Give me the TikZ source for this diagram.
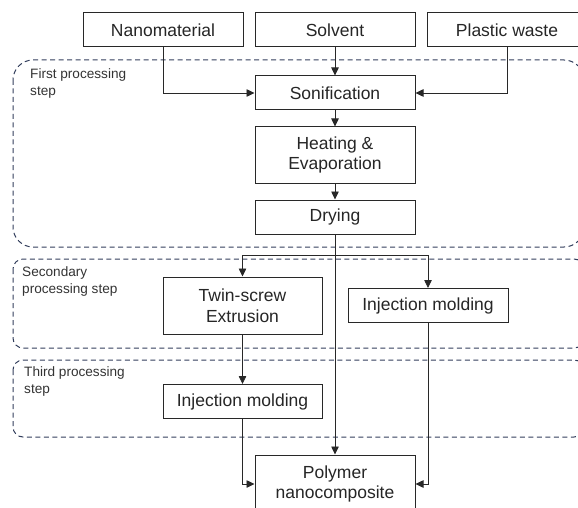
\documentclass[tikz,border=0pt]{standalone}
\usepackage{fontspec}
\setmainfont{Liberation Sans}
\usetikzlibrary{arrows.meta}
\definecolor{dashblue}{RGB}{50,62,92}
\definecolor{linegray}{RGB}{40,40,40}

\begin{document}
\begin{tikzpicture}[x=1pt,y=-1pt,>={Triangle[length=8pt,width=7.5pt]},draw=linegray]
    \tikzstyle{stepbox}=[draw=linegray,line width=1pt,fill=white,minimum width=160pt,minimum height=34pt,inner sep=0pt,align=center,font=\fontsize{17.5}{20.5}\selectfont,text=black!85]
    \tikzstyle{region}=[draw=dashblue,line width=1pt,dash pattern=on 5pt off 3.5pt]
    \tikzstyle{regionlabel}=[anchor=north west,align=left,inner sep=0pt,font=\fontsize{13.6}{17}\selectfont,text=black!80]
    \tikzstyle{flow}=[->,line width=0.8pt,draw=linegray]

    \useasboundingbox (0,0) rectangle (578,508);

    % dashed processing regions
    \draw[region,rounded corners=20pt] (13,60) rectangle (584,247);
    \draw[region,rounded corners=10pt] (13,259) rectangle (584,348);
    \draw[region,rounded corners=10pt] (13,360) rectangle (584,437);

    \node[regionlabel] (lab-1) at (30,68) {First processing\\step};
    \node[regionlabel] (lab-2) at (22,266) {Secondary\\processing step};
    \node[regionlabel] (lab-3) at (24,366) {Third processing\\step};

    % inputs
    \node[stepbox] (nano) at (163,30) {Nanomaterial};
    \node[stepbox] (solv) at (335,30) {Solvent};
    \node[stepbox] (plast) at (507,30) {Plastic waste};

    % first step
    \node[stepbox] (son) at (335,93) {Sonification};
    \node[stepbox,minimum height=56pt] (heat) at (335,155) {Heating \&\\Evaporation};
    \node[stepbox] (dry) at (335,217) {Drying};

    % second and third steps
    \node[stepbox,minimum width=159pt,minimum height=57pt] (twin) at (242.5,305.5) {Twin-screw\\Extrusion};
    \node[stepbox] (injR) at (428,305.5) {Injection molding};
    \node[stepbox,minimum width=159pt] (injL) at (242.5,401.5) {Injection molding};

    \node[stepbox,minimum height=58pt] (poly) at (335,484) {Polymer\\nanocomposite};

    \coordinate (split) at (335,255);

    \draw[flow] (nano.south) |- (son.west);
    \draw[flow] (solv.south) -- (son.north);
    \draw[flow] (plast.south) |- (son.east);
    \draw[flow] (son.south) -- (heat.north);
    \draw[flow] (heat.south) -- (dry.north);
    \draw[flow] (dry.south) -- (poly.north);
    \draw[flow] (split) -| (twin.north);
    \draw[flow] (split) -| (injR.north);
    \draw[flow] (twin.south) -- (injL.north);
    \draw[flow] (injL.south) |- (poly.west);
    \draw[flow] (injR.south) |- (poly.east);
\end{tikzpicture}
\end{document}
